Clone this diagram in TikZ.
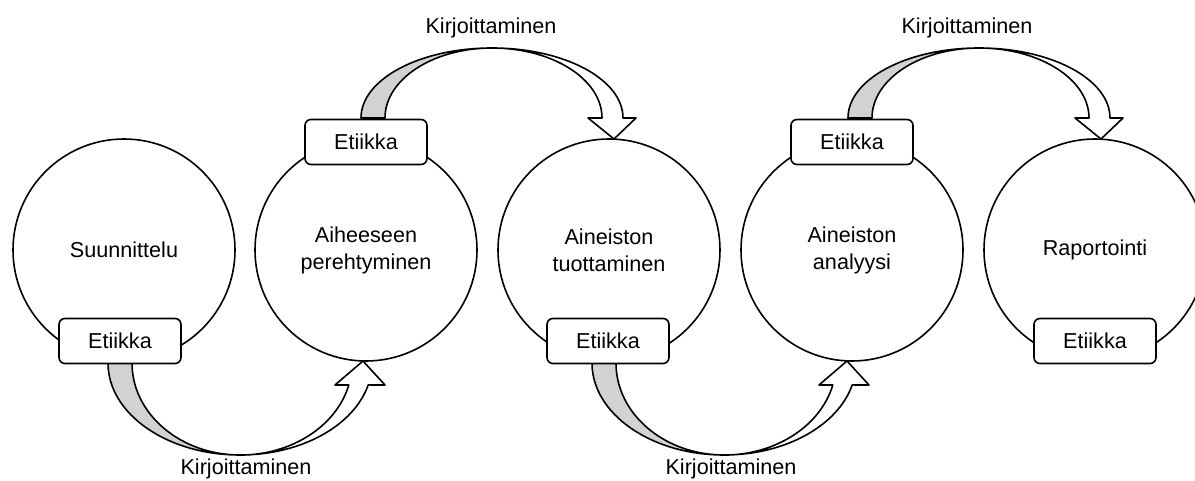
\documentclass[tikz,border=0pt]{standalone}
\usepackage{fontspec}
\setmainfont{Liberation Sans}
\usepackage{tikz}
\usetikzlibrary{calc,positioning}
\definecolor{bandgray}{RGB}{210,210,210}

\begin{document}
\begin{tikzpicture}[x=0.5pt,y=-0.5pt,line width=0.8pt,line join=round,
  vaihe/.style={draw,circle,fill=white,minimum size=111pt,inner sep=0pt,align=center,font=\fontsize{10.8}{13.5}\selectfont},
  etiikka/.style={draw,rounded corners=3pt,fill=white,minimum width=61pt,minimum height=22.5pt,inner sep=0pt,font=\fontsize{10.8}{13}\selectfont},
  kirj/.style={anchor=base,font=\fontsize{10.8}{13}\selectfont}]
\useasboundingbox (0,0) rectangle (1195,481);
% vaiheet
\node[vaihe] (suunnittelu) at (124,250) {Suunnittelu};
\node[vaihe] (perehtyminen) at (366,250) {Aiheeseen\\perehtyminen};
\node[vaihe] (tuottaminen) at (609,250) {Aineiston\\tuottaminen};
\node[vaihe] (analyysi) at (852,250) {Aineiston\\analyysi};
\node[vaihe] (raportointi) at (1095,250) {Raportointi};
% alakaaret
\draw[fill=bandgray] (108,363) arc[start angle=180,end angle=270,x radius=66pt,y radius=46pt]
  arc[start angle=270,end angle=180,x radius=54pt,y radius=46pt] -- cycle;
\draw[fill=white] (240,455) arc[start angle=270,end angle=346.2,x radius=66pt,y radius=46pt]
  -- (385,385) -- (363,361) -- (335,385) -- (348.8,385)
  arc[start angle=346.2,end angle=270,x radius=56pt,y radius=46pt] -- cycle;
\draw[fill=bandgray] (592,363) arc[start angle=180,end angle=270,x radius=66pt,y radius=46pt]
  arc[start angle=270,end angle=180,x radius=54pt,y radius=46pt] -- cycle;
\draw[fill=white] (724,455) arc[start angle=270,end angle=346.2,x radius=66pt,y radius=46pt]
  -- (869,385) -- (847,361) -- (819,385) -- (832.8,385)
  arc[start angle=346.2,end angle=270,x radius=56pt,y radius=46pt] -- cycle;
% yläkaaret
\draw[fill=bandgray] (361,118) arc[start angle=180,end angle=90,x radius=65.5pt,y radius=35pt]
  arc[start angle=90,end angle=180,x radius=53.5pt,y radius=35pt] -- cycle;
\draw[fill=white] (492,48) arc[start angle=90,end angle=0,x radius=65.5pt,y radius=35pt]
  -- (636,118) -- (614,139) -- (588,118) -- (602,118)
  arc[start angle=0,end angle=90,x radius=55pt,y radius=35pt] -- cycle;
\draw[fill=bandgray] (848,118) arc[start angle=180,end angle=90,x radius=65.5pt,y radius=35pt]
  arc[start angle=90,end angle=180,x radius=53.5pt,y radius=35pt] -- cycle;
\draw[fill=white] (979,48) arc[start angle=90,end angle=0,x radius=65.5pt,y radius=35pt]
  -- (1123,118) -- (1101,139) -- (1075,118) -- (1089,118)
  arc[start angle=0,end angle=90,x radius=55pt,y radius=35pt] -- cycle;
% etiikka
\node[etiikka] (e1) at (120,341) {Etiikka};
\node[etiikka] (e2) at (366,142) {Etiikka};
\node[etiikka] (e3) at (608,341) {Etiikka};
\node[etiikka] (e4) at (852,142) {Etiikka};
\node[etiikka] (e5) at (1095,341) {Etiikka};
% kirjoittaminen
\node[kirj] (k1) at (246,474) {Kirjoittaminen};
\node[kirj] (k2) at (491,34) {Kirjoittaminen};
\node[kirj] (k3) at (731,474) {Kirjoittaminen};
\node[kirj] (k4) at (967,34) {Kirjoittaminen};
\end{tikzpicture}
\end{document}
